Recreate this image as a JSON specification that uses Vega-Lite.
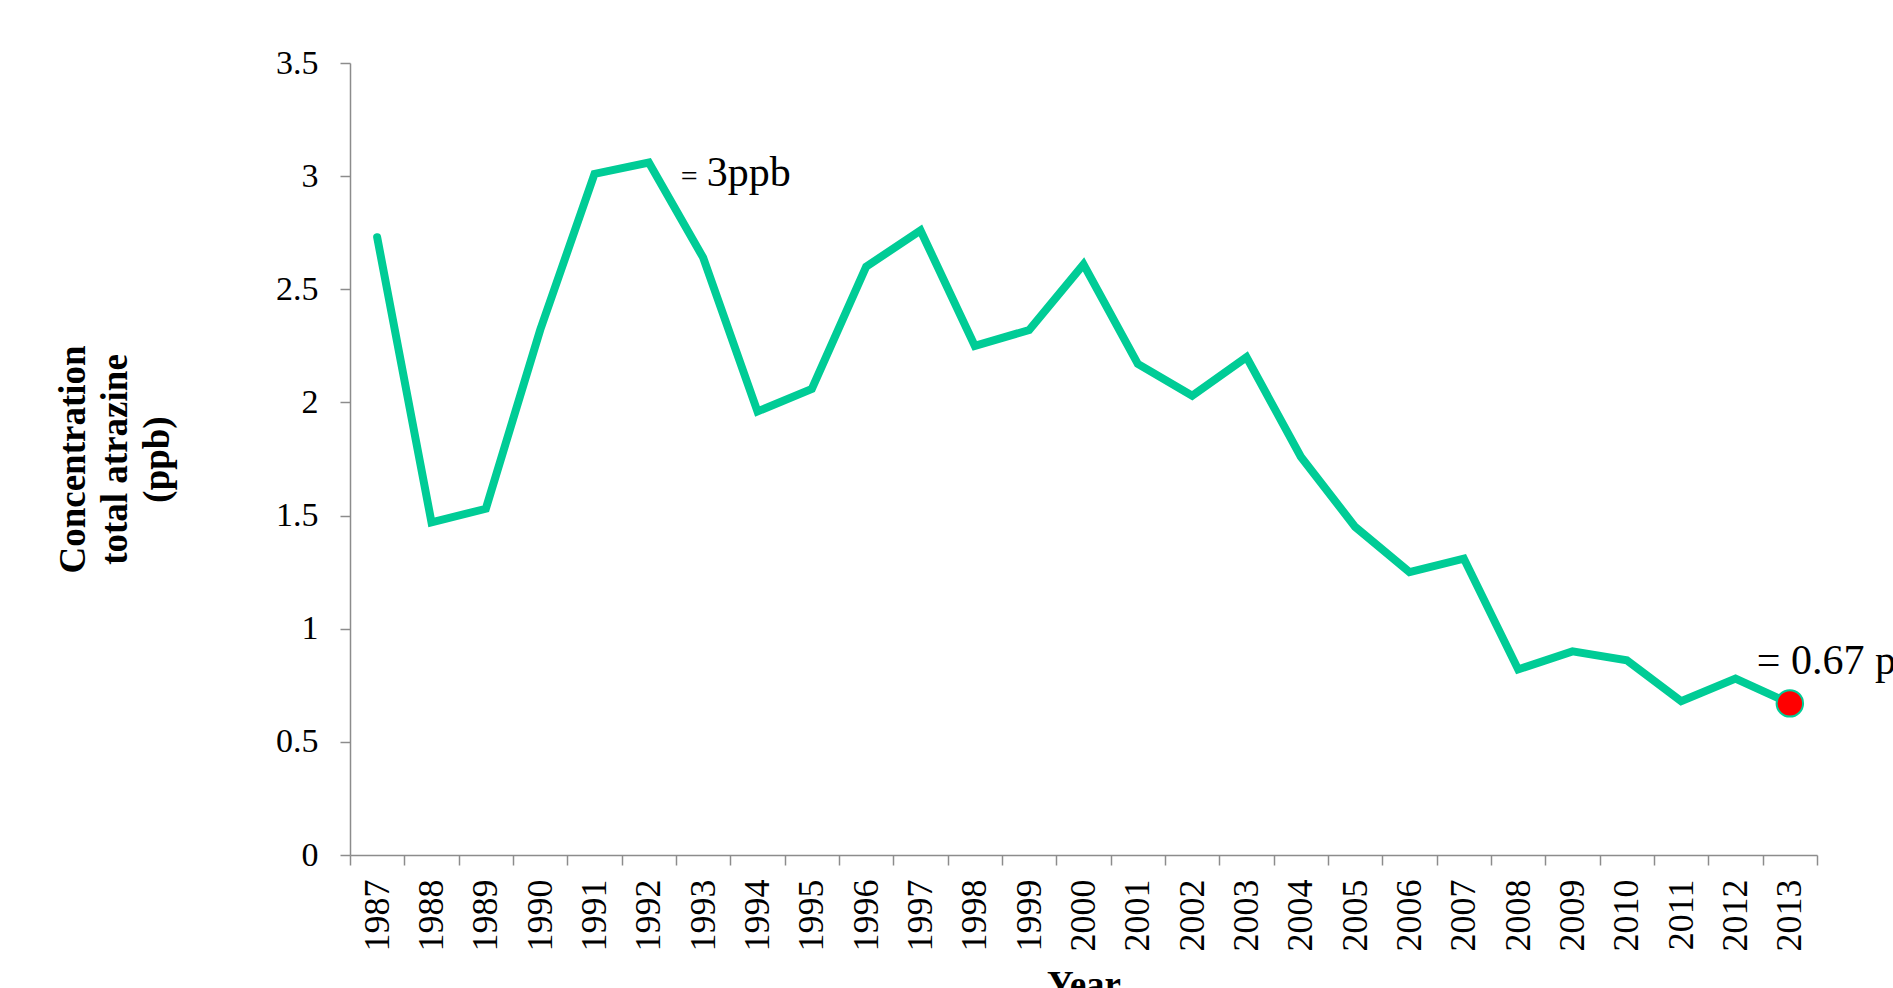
{
  "$schema": "https://vega.github.io/schema/vega-lite/v6.json",
  "autosize": {"type": "none"},
  "width": 1467,
  "height": 792,
  "padding": {"left": 350, "top": 63, "right": 76, "bottom": 133},
  "background": "white",
  "config": {"view": {"stroke": null}, "font": "Liberation Serif"},
  "data": {"values": [
    {"year": "1987", "ppb": 2.73},
    {"year": "1988", "ppb": 1.47},
    {"year": "1989", "ppb": 1.53},
    {"year": "1990", "ppb": 2.32},
    {"year": "1991", "ppb": 3.01},
    {"year": "1992", "ppb": 3.06, "note": "3ppb"},
    {"year": "1993", "ppb": 2.64},
    {"year": "1994", "ppb": 1.96},
    {"year": "1995", "ppb": 2.06},
    {"year": "1996", "ppb": 2.60},
    {"year": "1997", "ppb": 2.76},
    {"year": "1998", "ppb": 2.25},
    {"year": "1999", "ppb": 2.32},
    {"year": "2000", "ppb": 2.61},
    {"year": "2001", "ppb": 2.17},
    {"year": "2002", "ppb": 2.03},
    {"year": "2003", "ppb": 2.20},
    {"year": "2004", "ppb": 1.76},
    {"year": "2005", "ppb": 1.45},
    {"year": "2006", "ppb": 1.25},
    {"year": "2007", "ppb": 1.31},
    {"year": "2008", "ppb": 0.82},
    {"year": "2009", "ppb": 0.90},
    {"year": "2010", "ppb": 0.86},
    {"year": "2011", "ppb": 0.68},
    {"year": "2012", "ppb": 0.78},
    {"year": "2013", "ppb": 0.67, "note": "= 0.67 ppb"}
  ]},
  "encoding": {
    "x": {
      "field": "year", "type": "ordinal",
      "scale": {"paddingInner": 0, "paddingOuter": 0},
      "axis": {
        "title": "Year", "titleFont": "Liberation Serif", "titleFontSize": 37, "titleFontWeight": "bold",
        "titleColor": "black", "titleBaseline": "top", "titleY": 112,
        "labelAngle": -90, "labelFontSize": 36, "labelColor": "black", "labelPadding": 14,
        "labelFont": "Liberation Serif",
        "tickBand": "extent", "tickSize": 10, "tickColor": "#8c8c8c", "tickWidth": 1.5,
        "domainColor": "#8c8c8c", "domainWidth": 1.5, "grid": false
      }
    },
    "y": {
      "field": "ppb", "type": "quantitative",
      "scale": {"domain": [0, 3.5], "nice": false},
      "axis": {
        "title": ["Concentration", "total atrazine", "(ppb)"],
        "titleFont": "Liberation Serif", "titleFontSize": 37, "titleFontWeight": "bold",
        "titleColor": "black", "titleLineHeight": 42, "titleAngle": -90,
        "titleX": -277, "titleY": 396, "titleAlign": "center", "titleBaseline": "middle",
        "values": [0, 0.5, 1, 1.5, 2, 2.5, 3, 3.5], "format": "~g",
        "labelFontSize": 34, "labelColor": "black", "labelPadding": 22, "labelFont": "Liberation Serif",
        "tickSize": 10, "tickColor": "#8c8c8c", "tickWidth": 1.5,
        "domainColor": "#8c8c8c", "domainWidth": 1.5, "grid": false
      }
    }
  },
  "layer": [
    {
      "mark": {"type": "line", "color": "#00cc96", "strokeWidth": 8, "strokeJoin": "miter", "strokeCap": "round"}
    },
    {
      "transform": [{"filter": "datum.year == '2013'"}],
      "mark": {"type": "point", "filled": true, "fill": "#ff0000", "stroke": "#00cc96", "strokeWidth": 2, "size": 700, "opacity": 1}
    },
    {
      "transform": [{"filter": "datum.year == '1992'"}],
      "mark": {"type": "text", "text": "=", "fontSize": 30, "align": "left", "baseline": "middle", "dx": 32, "dy": 14, "color": "black"}
    },
    {
      "transform": [{"filter": "datum.year == '1992'"}],
      "mark": {"type": "text", "fontSize": 42, "align": "left", "baseline": "middle", "dx": 58, "dy": 10, "color": "black"},
      "encoding": {"text": {"field": "note"}}
    },
    {
      "transform": [{"filter": "datum.year == '2013'"}],
      "mark": {"type": "text", "fontSize": 42, "align": "left", "baseline": "middle", "dx": -33, "dy": -42, "color": "black"},
      "encoding": {"text": {"field": "note"}}
    }
  ]
}
